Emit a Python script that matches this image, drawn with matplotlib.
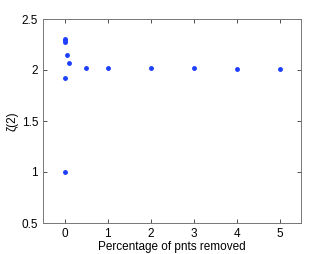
import matplotlib
matplotlib.use('Agg')
import matplotlib.pyplot as plt

plt.rcParams['font.family'] = ['Liberation Sans', 'DejaVu Sans']

# percentage of points removed and the resulting zeta(2)
pct = [0, 0, 0, 0, 0, 0.05, 0.1, 0.5, 1, 2, 3, 4, 5]
zeta = [2.30, 2.29, 2.27, 1.92, 1.00, 2.15, 2.07, 2.02, 2.02, 2.02, 2.02, 2.01, 2.01]

xticks = [0, 1, 2, 3, 4, 5]
yticks = [0.5, 1, 1.5, 2, 2.5]

fig = plt.figure(figsize=(3.32, 2.54), dpi=100)
ax = fig.add_axes([43/332, 31/254, 258/332, 204/254])
ax.plot(pct, zeta, '.', color='#1f3fff', markersize=5)
ax.set_xlim(-0.5, 5.5)
ax.set_ylim(0.5, 2.5)
ax.set_xticks(xticks)
ax.set_yticks(yticks)
ax.set_yticklabels(['0.5', '1', '1.5', '2', '2.5'])
ax.tick_params(direction='in', labelsize=8.5, length=3, width=0.6,
               top=True, right=True, colors='#333333', labelcolor='black')
ax.set_xlabel('Percentage of pnts removed', fontsize=8.5, labelpad=1)
ax.set_ylabel('ζ(2)', fontsize=8.5, labelpad=2)
for s in ax.spines.values():
    s.set_linewidth(0.7)
    s.set_color('#777777')

fig.savefig('out.png', dpi=100)
